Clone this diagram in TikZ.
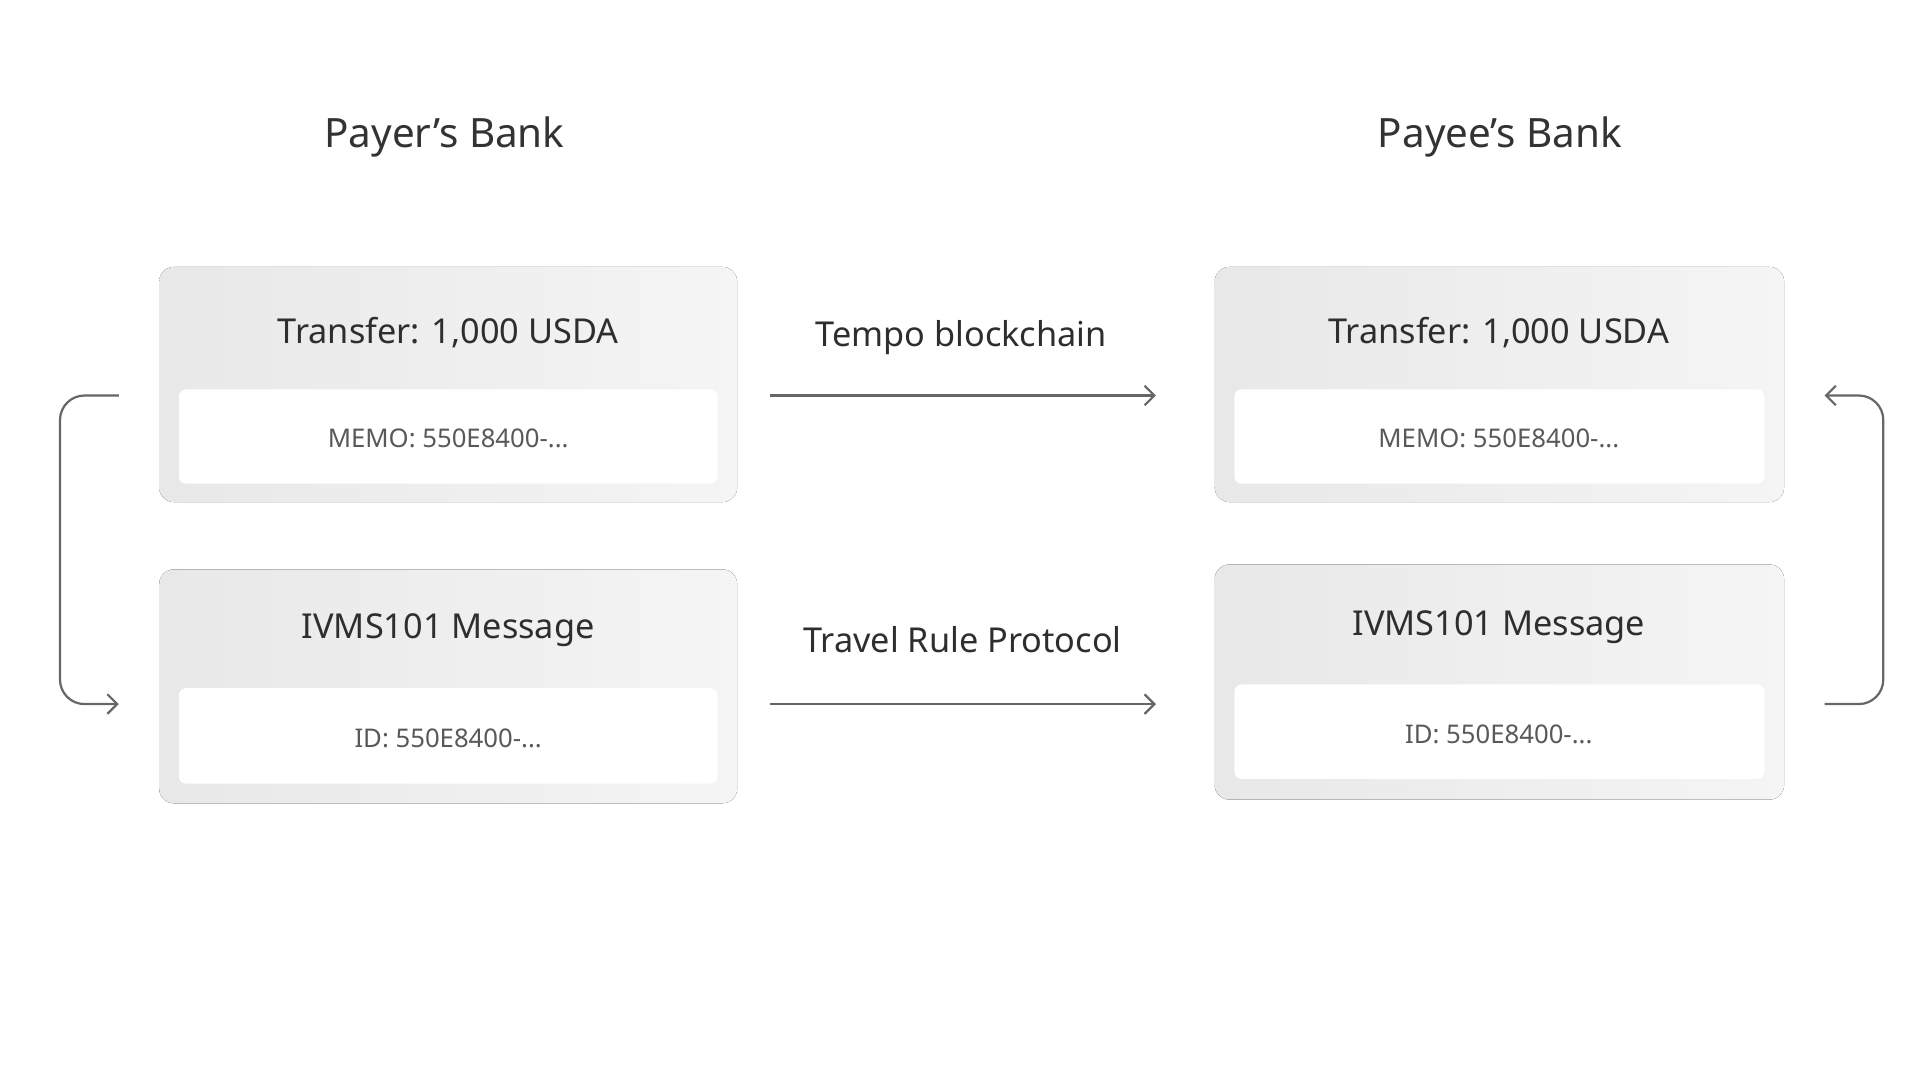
\documentclass[tikz,border=0pt]{standalone}
\usepackage{fontspec}
\setmainfont{Noto Sans}
\begin{document}
\begin{tikzpicture}[x=0.5pt,y=-0.5pt,
  outer/.style={draw=none,rounded corners=6pt,left color=black!9,right color=black!4},
  inner/.style={fill=white,rounded corners=3pt},
  head/.style={font=\fontsize{16.5}{18}\selectfont,text=black!80},
  title/.style={font=\fontsize{14}{16}\selectfont,text=black!82},
  sub/.style={font=\fontsize{10.5}{12}\selectfont,text=black!65},
  arr/.style={draw=black!60,line width=0.9pt,->,>={Straight Barb[length=4pt,width=8pt]}}]
\usetikzlibrary{arrows.meta}
\useasboundingbox (0,0) rectangle (1568,882);
\node[head] (h1) at (363,112) {Payer’s Bank};
\node[head] (h2) at (1225,112) {Payee’s Bank};
% boxes
\fill[outer] (130,218) rectangle (602,410);
\fill[inner] (146,318) rectangle (586,395);
\node[title] (t1) at (366,272) {Transfer: 1,000 USDA};
\node[sub] (m1) at (366,358) {MEMO: 550E8400-...};
\fill[outer] (130,465) rectangle (602,656);
\fill[inner] (146,562) rectangle (586,640);
\node[title] (t2) at (366,515) {IVMS101 Message};
\node[sub] (m2) at (366,603) {ID: 550E8400-...};
\fill[outer] (992,218) rectangle (1457,410);
\fill[inner] (1008,318) rectangle (1441,395);
\node[title] (t3) at (1224,272) {Transfer: 1,000 USDA};
\node[sub] (m3) at (1224,358) {MEMO: 550E8400-...};
\fill[outer] (992,461) rectangle (1457,653);
\fill[inner] (1008,559) rectangle (1441,636);
\node[title] (t4) at (1224,512) {IVMS101 Message};
\node[sub] (m4) at (1224,600) {ID: 550E8400-...};
% arrows
\coordinate (a1) at (629,323); \coordinate (b1) at (944,323);
\coordinate (a2) at (629,575); \coordinate (b2) at (944,575);
\draw[arr] (a1) -- (b1);
\draw[arr] (a2) -- (b2);
\node[title] (l1) at (785,276) {Tempo blockchain};
\node[title] (l2) at (786,522) {Travel Rule Protocol};
\coordinate (p1) at (97,323); \coordinate (p2) at (97,575);
\draw[arr,rounded corners=10pt] (p1) -- (49,323) -- (49,575) -- (p2);
\coordinate (q1) at (1490,575); \coordinate (q2) at (1490,323);
\draw[arr,rounded corners=10pt] (q1) -- (1538,575) -- (1538,323) -- (q2);
\end{tikzpicture}
\end{document}
